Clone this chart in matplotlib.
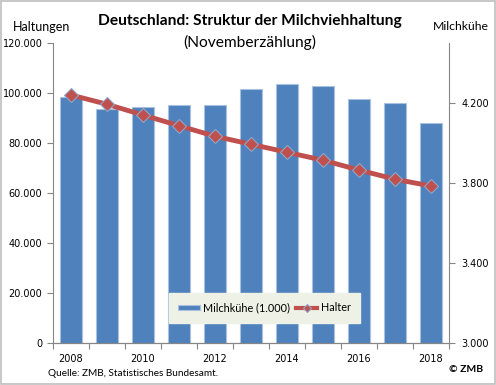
import matplotlib
matplotlib.use("Agg")
import matplotlib.pyplot as plt
from matplotlib.patches import Rectangle
import numpy as np

years = [2008, 2009, 2010, 2011, 2012, 2013, 2014, 2015, 2016, 2017, 2018]
milchkuehe = [4229, 4169, 4182, 4190, 4190, 4268, 4296, 4285, 4218, 4199, 4101]  # 1.000 Tiere
halter = [99200, 95500, 91200, 86900, 82700, 79500, 76300, 73100, 69200, 65500, 62800]
left_ticks = [0, 20000, 40000, 60000, 80000, 100000, 120000]
right_ticks = [3000, 3400, 3800, 4200]

def de_fmt(v):
    return f"{v:,.0f}".replace(",", ".")

plt.rcParams['font.family'] = ['Lato', 'DejaVu Sans']

fig = plt.figure(figsize=(4.96, 3.85), dpi=100)
fig.patches.append(Rectangle((0.002, 0.002), 0.996, 0.996, transform=fig.transFigure,
                             fill=False, edgecolor='#BFBFBF', linewidth=1.2))

ax1 = fig.add_axes([53/496, 1-343/385, 396/496, 300/385])
ax2 = ax1.twinx()

tick_font = dict(fontsize=7, family='DejaVu Sans')

x = np.arange(len(years))
ax2.bar(x, milchkuehe, width=0.6, color='#4F81BD', edgecolor='#A9C1E0', linewidth=0.8,
        bottom=0, label='Milchkühe (1.000)')
ax2.set_ylim(3000, 4500)
ax2.set_yticks(right_ticks)
ax2.set_yticklabels([de_fmt(v) for v in right_ticks], **tick_font)

ax1.plot(x, halter, color='#C0504D', linewidth=3.5, marker='D', markersize=7,
         markerfacecolor='#C0504D', markeredgecolor='#8FA6C8', markeredgewidth=0.8,
         label='Halter', zorder=5)
ax1.set_ylim(0, 120000)
ax1.set_yticks(left_ticks)
ax1.set_yticklabels([de_fmt(v) for v in left_ticks], **tick_font)
ax1.set_xlim(-0.5, len(years) - 0.5)

ax1.set_zorder(ax2.get_zorder() + 1)
ax1.patch.set_visible(False)

# x ticks at category boundaries, labels every other year
ax1.set_xticks(np.arange(-0.5, len(years), 1.0))
ax1.set_xticklabels([])
ax1.set_xticks(x[::2], minor=True)
ax1.set_xticklabels([str(y) for y in years[::2]], minor=True, **tick_font)
ax1.tick_params(axis='x', which='major', length=4, direction='out', color='#868686')
ax1.tick_params(axis='x', which='minor', length=0, pad=8)
ax2.tick_params(axis='x', which='both', length=0, labelbottom=False)

for a in (ax1, ax2):
    a.spines['top'].set_visible(False)
    for s in ('left', 'right', 'bottom'):
        a.spines[s].set_color('#868686')
ax1.spines['right'].set_visible(False)
ax2.spines['left'].set_visible(False)
ax1.tick_params(axis='y', length=4, color='#868686', pad=3.6)
ax2.tick_params(axis='y', length=4, color='#868686', pad=5)

h2, l2 = ax2.get_legend_handles_labels()
h1, l1 = ax1.get_legend_handles_labels()
leg = ax1.legend(h2 + h1, l2 + l1, loc='center', bbox_to_anchor=(0.534, 0.117), ncol=2,
                 fontsize=7.8, frameon=True, fancybox=False, facecolor='#EEF1E6',
                 edgecolor='#EEF1E6', framealpha=1, handlelength=2.0, handleheight=0.45,
                 columnspacing=0.5, borderpad=0.85, handletextpad=0.3, borderaxespad=0)
for lh in leg.legend_handles:
    if hasattr(lh, 'set_linewidth') and not isinstance(lh, Rectangle):
        lh.set_linewidth(3)
        lh.set_markersize(4)

fig.text(250/496, 1-21/385, 'Deutschland: Struktur der Milchviehhaltung', ha='center', va='center',
         fontsize=11.2, fontweight='bold')
fig.text(250/496, 1-42/385, '(Novemberzählung)', ha='center', va='center', fontsize=11.2)
fig.text(13/496, 1-27/385, 'Haltungen', ha='left', va='center', fontsize=9)
fig.text(489/496, 1-27/385, 'Milchkühe', ha='right', va='center', fontsize=8.8)
fig.text(48/496, 1-374/385, 'Quelle: ZMB, Statistisches Bundesamt.', ha='left', va='center', fontsize=7.2)
fig.text(483/496, 1-370/385, '© ZMB', ha='right', va='center', fontsize=7.5, fontweight='bold')

fig.savefig('out.png', dpi=100)
